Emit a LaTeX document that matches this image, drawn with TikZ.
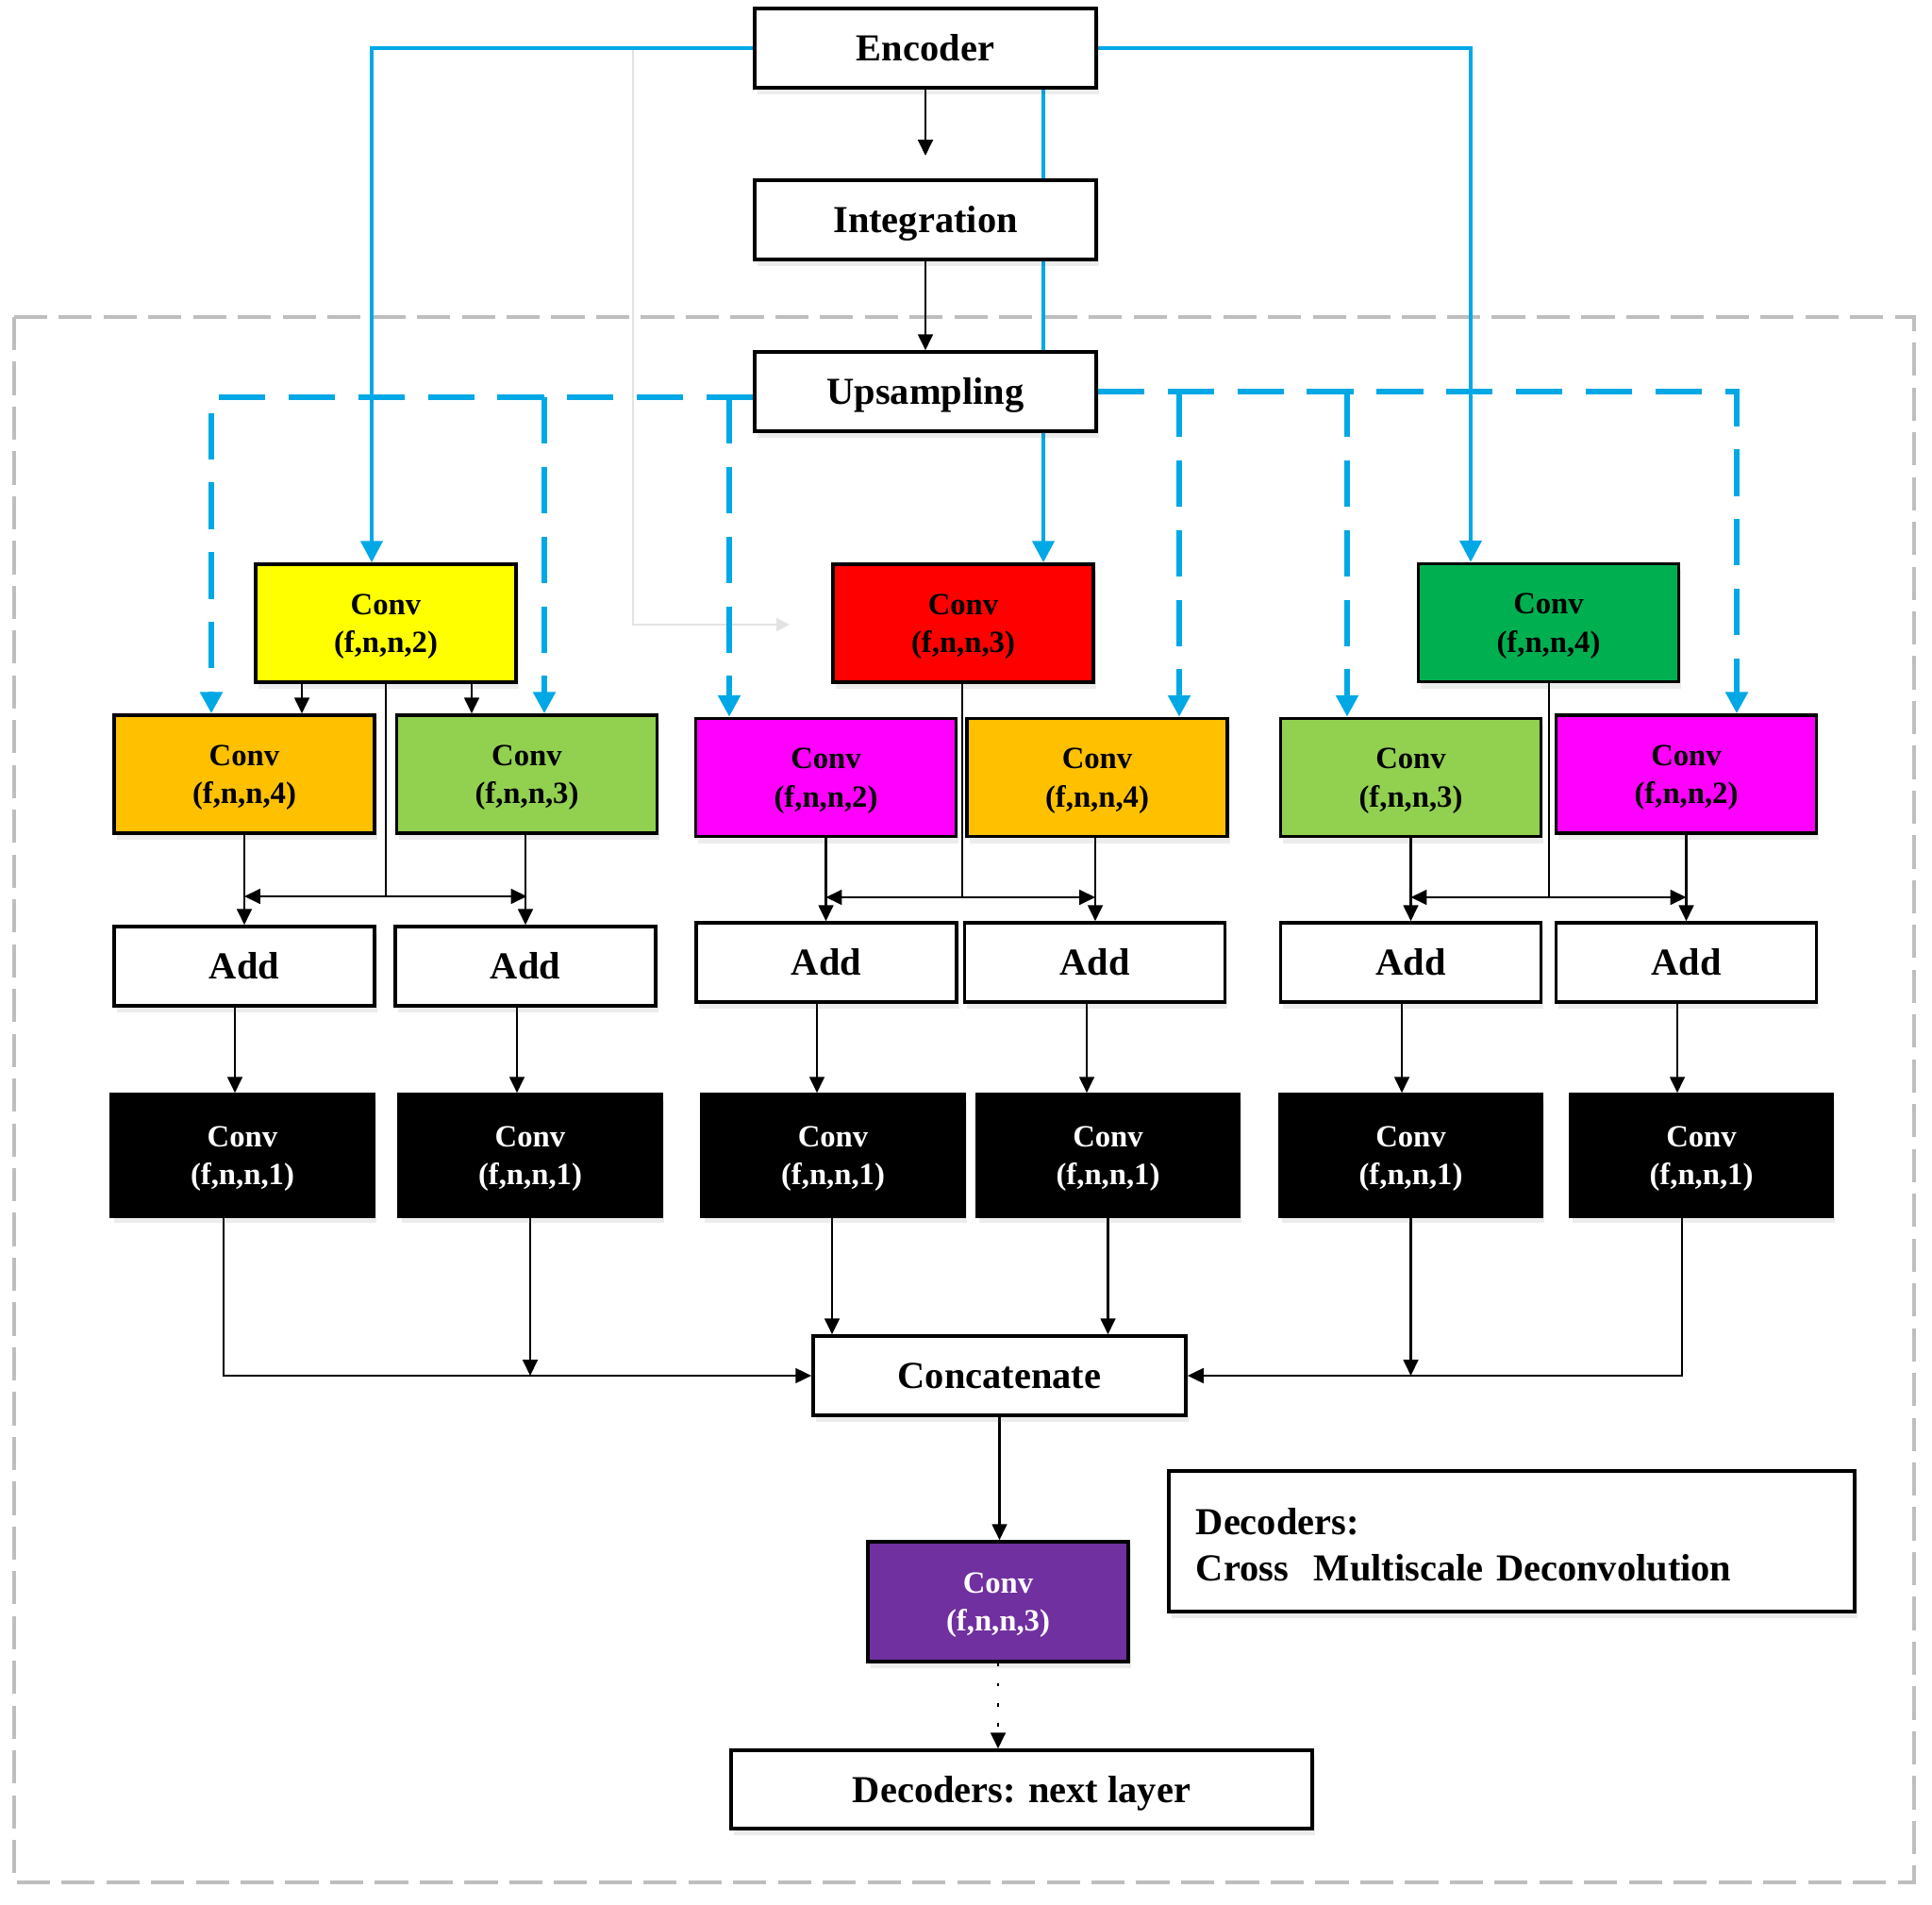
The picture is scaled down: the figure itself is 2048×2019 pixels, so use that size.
\documentclass[tikz,border=0pt]{standalone}
\usepackage{fontspec}
\setmainfont{Liberation Serif}
\usetikzlibrary{arrows.meta,shadows,backgrounds,calc}
\definecolor{cblue}{RGB}{0,168,230}
\definecolor{cyellow}{RGB}{255,255,0}
\definecolor{cred}{RGB}{255,0,0}
\definecolor{cdgreen}{RGB}{0,176,80}
\definecolor{corange}{RGB}{255,192,0}
\definecolor{clgreen}{RGB}{146,208,80}
\definecolor{cmag}{RGB}{255,0,255}
\definecolor{cpurple}{RGB}{112,48,160}
\definecolor{cframe}{RGB}{190,190,190}
\newcommand{\cvlab}[1]{\rule{0pt}{8.3pt}Conv\\(f,n,n,#1)}
\begin{document}
\begin{tikzpicture}[x=0.01cm,y=-0.01cm,
  sh/.style={drop shadow={shadow xshift=0.8pt,shadow yshift=-2pt,opacity=0.12,fill=black!60}},
  wbase/.style={draw=black, line width=1pt, fill=white, sh, minimum width=3.62cm, minimum height=0.84cm, inner sep=0pt, font=\fontsize{11.5}{13.8}\selectfont\bfseries},
  wbox/.style={wbase, text height=7.8pt, text depth=0pt},
  abox/.style={wbox, minimum width=2.76cm},
  cbox/.style={draw=black, line width=1pt, sh, minimum width=2.76cm, minimum height=1.25cm, align=center, inner sep=0pt, font=\fontsize{9.3}{11.5}\selectfont\bfseries},
  kbox/.style={cbox, fill=black, text=white, minimum width=2.78cm, minimum height=1.29cm},
  arr/.style={-{Triangle[length=4.8pt,width=4.5pt]}, line width=0.6pt},
  darr/.style={{Triangle[length=4.8pt,width=4.5pt]}-{Triangle[length=4.8pt,width=4.5pt]}, line width=0.6pt},
  barr/.style={draw=cblue, line width=1.3pt, -{Triangle[length=6.5pt,width=6.5pt]}},
  dbarr/.style={barr, line width=1.7pt, dash pattern=on 14pt off 7pt},
]
\useasboundingbox (0,0) rectangle (2048,2019);

% top chain
\node[wbox] (enc) at (981,51) {Encoder};
\node[wbox] (integ) at (981,233) {Integration};
\node[wbox] (ups) at (981,415) {Upsampling};

% first-level convs
\node[cbox, fill=cyellow] (c2) at (409,660.5) {\cvlab{2}};
\node[cbox, fill=cred] (c3) at (1021,660.5) {\cvlab{3}};
\node[cbox, fill=cdgreen] (c4) at (1641.5,660) {\cvlab{4}};

% second-level convs
\node[cbox, fill=corange] (oL) at (259,820.5) {\cvlab{4}};
\node[cbox, fill=clgreen] (gL) at (558.5,820.5) {\cvlab{3}};
\node[cbox, fill=cmag] (mM) at (875.5,824) {\cvlab{2}};
\node[cbox, fill=corange] (oM) at (1163,824) {\cvlab{4}};
\node[cbox, fill=clgreen] (gR) at (1495.5,824) {\cvlab{3}};
\node[cbox, fill=cmag] (mR) at (1787.5,820.5) {\cvlab{2}};

% add boxes
\node[abox] (aL1) at (259,1024) {Add};
\node[abox] (aL2) at (557,1024) {Add};
\node[abox] (aM1) at (876,1020) {Add};
\node[abox] (aM2) at (1160.5,1020) {Add};
\node[abox] (aR1) at (1495.5,1020) {Add};
\node[abox] (aR2) at (1787.5,1020) {Add};

% black convs
\node[kbox] (k1) at (257,1224.5) {\cvlab{1}};
\node[kbox] (k2) at (562,1224.5) {\cvlab{1}};
\node[kbox] (k3) at (883,1224.5) {\cvlab{1}};
\node[kbox] (k4) at (1174.5,1224.5) {\cvlab{1}};
\node[kbox] (k5) at (1495.5,1224.5) {\cvlab{1}};
\node[kbox] (k6) at (1803.5,1224.5) {\cvlab{1}};

% bottom
\node[wbox, minimum width=3.95cm] (cat) at (1059.5,1458) {Concatenate};
\node[cbox, fill=cpurple, text=white, minimum height=1.27cm] (pur) at (1058,1697.5) {\cvlab{3}};
\node[wbox, minimum width=6.16cm, minimum height=0.83cm] (nxt) at (1083,1896.5) {Decoders: next layer};
\node[wbase, align=left, text width=6.69cm, inner xsep=0.29cm, inner ysep=0pt, minimum height=1.49cm, font=\fontsize{11.5}{14}\selectfont\bfseries] (leg) at (1602.5,1633.5) {\rule{0pt}{10pt}Decoders:\\Cross\ \ Multiscale Deconvolution};

\coordinate (encTip) at (981,165);
\coordinate (gS) at (671,51);
\coordinate (gE) at (837,662);
\coordinate (bL1) at (577,421);
\coordinate (bL2) at (773,421);
\coordinate (bR1) at (1250,414);
\coordinate (bR2) at (1428,414);

\begin{scope}[on background layer]
  \draw[cframe, line width=1pt, dash pattern=on 10pt off 3.5pt] (15,336) rectangle (2029,1995);
  % faint gray connector
  \draw[gray!22, line width=0.6pt, -{Triangle[length=4pt,width=4pt]}] (gS) |- (gE);
  % solid blue
  \draw[barr] (enc.west) -| (c2.north -| 394,0);
  \draw[barr] (enc.east) -| (c4.north -| 1559,0);
  \draw[barr] (enc.south -| 1106,0) -- (c3.north -| 1106,0);
  % dashed blue
  \draw[dbarr] ($(ups.west)+(0,6)$) -| (oL.north -| 224,0);
  \draw[dbarr] (bL1) -- (gL.north -| 577,0);
  \draw[dbarr] (bL2) -- (mM.north -| 773,0);
  \draw[dbarr] (ups.east) -| (mR.north -| 1841,0);
  \draw[dbarr] (bR1) -- (oM.north -| 1250,0);
  \draw[dbarr] (bR2) -- (gR.north -| 1428,0);
  % black chain
  \draw[arr] (enc.south) -- (encTip);
  \draw[arr] (integ.south) -- (ups.north);
  % left group
  \draw[arr] (c2.south -| 320,0) -- (oL.north -| 320,0);
  \draw[arr] (c2.south -| 500,0) -- (gL.north -| 500,0);
  \draw[line width=0.6pt] (c2.south) -- (c2.south |- 0,950);
  \draw[darr] (oL.south |- 0,950) -- (gL.south |- 0,950);
  \draw[arr] (oL.south) -- (aL1.north -| oL.south);
  \draw[arr] (gL.south -| 557,0) -- (aL2.north -| 557,0);
  % middle group
  \draw[line width=0.6pt] (c3.south -| 1020,0) -- (1020,951);
  \draw[darr] (mM.south |- 0,951) -- (1161,951);
  \draw[arr] (mM.south) -- (aM1.north -| mM.south);
  \draw[arr] (oM.south -| 1161,0) -- (aM2.north -| 1161,0);
  % right group
  \draw[line width=0.6pt] (c4.south -| 1642,0) -- (1642,951);
  \draw[darr] (gR.south |- 0,951) -- (mR.south |- 0,951);
  \draw[arr] (gR.south) -- (aR1.north -| gR.south);
  \draw[arr] (mR.south) -- (aR2.north -| mR.south);
  % add -> black convs
  \draw[arr] (aL1.south -| 249,0) -- (k1.north -| 249,0);
  \draw[arr] (aL2.south -| 548,0) -- (k2.north -| 548,0);
  \draw[arr] (aM1.south -| 866,0) -- (k3.north -| 866,0);
  \draw[arr] (aM2.south -| 1152,0) -- (k4.north -| 1152,0);
  \draw[arr] (aR1.south -| 1486,0) -- (k5.north -| 1486,0);
  \draw[arr] (aR2.south -| 1778,0) -- (k6.north -| 1778,0);
  % black convs -> concatenate
  \draw[arr] (k1.south -| 237,0) |- (cat.west);
  \draw[arr] (k2.south) -- (k2.south |- cat.west);
  \draw[arr] (k3.south -| 882,0) -- (cat.north -| 882,0);
  \draw[arr] (k4.south) -- (cat.north -| k4.south);
  \draw[arr] (k5.south) -- (k5.south |- cat.east);
  \draw[arr] (k6.south -| 1783,0) |- (cat.east);
  % bottom
  \draw[arr] (cat.south) -- (cat.south |- pur.north);
  \draw[arr, dash pattern=on 1pt off 5pt] (pur.south) -- (pur.south |- nxt.north);
\end{scope}
\end{tikzpicture}
\end{document}
